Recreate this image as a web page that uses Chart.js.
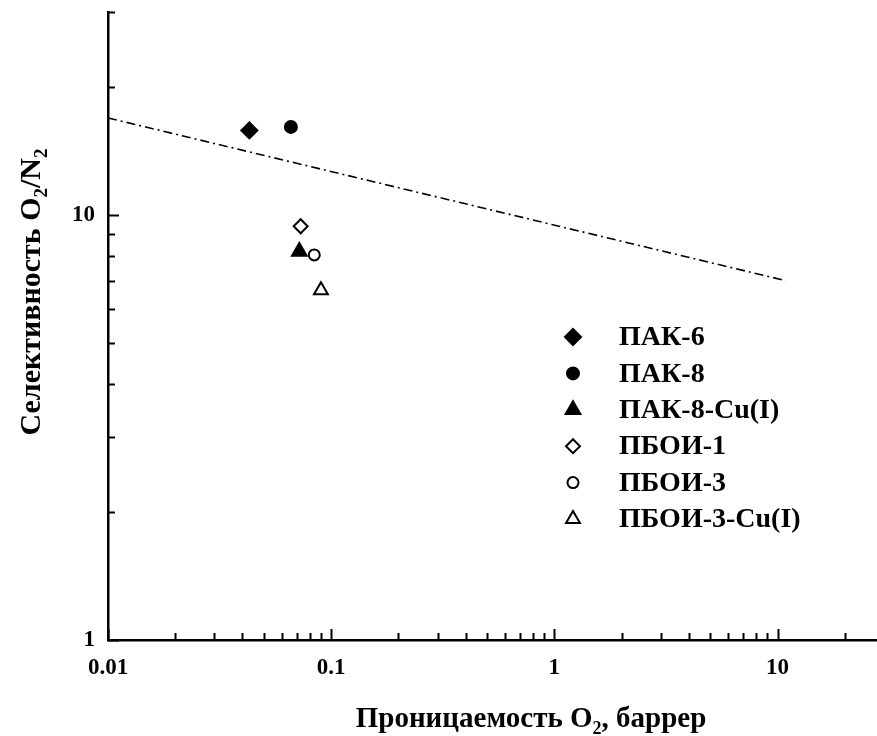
<!DOCTYPE html>
<html>
<head>
<meta charset="utf-8">
<script src="https://cdn.jsdelivr.net/npm/chart.js@4.4.1/dist/chart.umd.min.js"></script>
<style>
  html, body { margin: 0; padding: 0; background: #fff; overflow: hidden; }
  /* canvas is a little wider than the window so the x axis runs off the right edge */
  #wrap { width: 888px; height: 736px; }
</style>
</head>
<body>
<div id="wrap"><canvas id="chart"></canvas></div>
<script>
// samples
const names = ['ПАК-6', 'ПАК-8', 'ПАК-8-Cu(I)', 'ПБОИ-1', 'ПБОИ-3', 'ПБОИ-3-Cu(I)'];
const permO2 = [0.043, 0.066, 0.072, 0.073, 0.084, 0.090];
const selectivity = [15.8, 16.1, 8.2, 9.4, 8.05, 6.65];

// upper bound line (dash-dot)
const boundX = [0.01, 10.9];
const boundY = [16.9, 7.0];

const xTickLabels = ['0.01', '0.1', '1', '10'];
const yTickLabels = ['1', '10'];

const markers = [
  { style: 'rectRot', r: 8, fill: '#000' },
  { style: 'circle', r: 6, fill: '#000' },
  { style: 'triangle', r: 8.5, fill: '#000' },
  { style: 'rectRot', r: 7, fill: '#fff' },
  { style: 'circle', r: 5.5, fill: '#fff' },
  { style: 'triangle', r: 8, fill: '#fff' }
];

const SERIF = '"Liberation Serif", "Times New Roman", serif';

const isNice = v => {
  const p = Math.pow(10, Math.floor(Math.log10(v) + 1e-9));
  const s = v / p;
  return Math.abs(s - Math.round(s)) < 1e-6;
};
const isDecade = v => {
  const l = Math.log10(v);
  return Math.abs(l - Math.round(l)) < 1e-9;
};
const fmt = v => String(+v.toPrecision(6));

const datasets = names.map((name, i) => ({
  label: name,
  data: [{ x: permO2[i], y: selectivity[i] }],
  pointStyle: markers[i].style,
  pointRadius: markers[i].r,
  pointHoverRadius: markers[i].r,
  pointBackgroundColor: markers[i].fill,
  pointBorderColor: '#000',
  pointBorderWidth: 2,
  showLine: false
}));

datasets.push({
  label: 'bound',
  data: boundX.map((x, i) => ({ x, y: boundY[i] })),
  showLine: true,
  borderColor: '#000',
  borderWidth: 1.6,
  borderDash: [9, 4, 2, 4],
  pointRadius: 0,
  fill: false
});

const inwardTicks = {
  id: 'inwardTicks',
  afterDatasetsDraw(chart) {
    const { ctx, chartArea: a, scales: { x, y } } = chart;
    ctx.save();
    ctx.strokeStyle = '#000';
    ctx.lineWidth = 2;
    ctx.beginPath();
    x.ticks.forEach(t => {
      if (!isNice(t.value)) return;
      const px = Math.round(x.getPixelForValue(t.value)) + 0.5;
      const len = isDecade(t.value) ? 11 : 7;
      ctx.moveTo(px, a.bottom);
      ctx.lineTo(px, a.bottom - len);
    });
    y.ticks.forEach(t => {
      if (!isNice(t.value)) return;
      const py = Math.round(y.getPixelForValue(t.value)) + 0.5;
      const len = isDecade(t.value) ? 11 : 7;
      ctx.moveTo(a.left, py);
      ctx.lineTo(a.left + len, py);
    });
    ctx.stroke();
    ctx.restore();
  }
};

// text with subscripts, centred on x = 0, baseline at y = 0
function drawRich(ctx, parts, size) {
  const main = `bold ${size}px ${SERIF}`;
  const sub = `bold ${Math.round(size * 0.62)}px ${SERIF}`;
  let total = 0;
  const widths = parts.map(([t, s]) => {
    ctx.font = s ? sub : main;
    const w = ctx.measureText(t).width;
    total += w;
    return w;
  });
  let cx = -total / 2;
  ctx.textBaseline = 'alphabetic';
  ctx.textAlign = 'left';
  parts.forEach(([t, s], i) => {
    ctx.font = s ? sub : main;
    ctx.fillText(t, cx, s ? size * 0.24 : 0);
    cx += widths[i];
  });
}

const titles = {
  id: 'titles',
  afterDraw(chart) {
    const { ctx } = chart;
    ctx.save();
    ctx.fillStyle = '#000';
    ctx.translate(531, 727);
    drawRich(ctx, [['Проницаемость O', false], ['2', true], [', баррер', false]], 29);
    ctx.restore();

    ctx.save();
    ctx.fillStyle = '#000';
    ctx.translate(40, 292);
    ctx.rotate(-Math.PI / 2);
    drawRich(ctx, [['Селективность O', false], ['2', true], ['/N', false], ['2', true]], 30);
    ctx.restore();
  }
};

const legendBox = {
  id: 'legendBox',
  afterDraw(chart) {
    const { ctx } = chart;
    const draw = Chart.helpers && Chart.helpers.drawPoint;
    ctx.save();
    names.forEach((name, i) => {
      const yy = 337 + i * 36.4;
      const m = markers[i];
      ctx.fillStyle = m.fill;
      ctx.strokeStyle = '#000';
      ctx.lineWidth = 2;
      if (draw) {
        draw(ctx, { pointStyle: m.style, radius: m.r, borderWidth: 2, rotation: 0 }, 573, yy);
      }
      ctx.fillStyle = '#000';
      ctx.font = `bold 28px ${SERIF}`;
      ctx.textAlign = 'left';
      ctx.textBaseline = 'middle';
      ctx.fillText(name, 619, yy + 1);
    });
    ctx.restore();
  }
};

new Chart(document.getElementById('chart'), {
  type: 'scatter',
  data: { datasets },
  plugins: [inwardTicks, titles, legendBox],
  options: {
    responsive: true,
    maintainAspectRatio: false,
    animation: false,
    layout: { padding: { top: 12, right: 0, left: 0, bottom: 0 } },
    plugins: { legend: { display: false }, tooltip: { enabled: false } },
    scales: {
      x: {
        type: 'logarithmic',
        min: 0.01,
        max: 28.06,
        afterFit(scale) {
          scale.height = 96;
          scale.paddingLeft = 0;
          scale.paddingRight = 0;
        },
        grid: { display: false, drawTicks: false },
        border: { display: true, color: '#000', width: 2.5 },
        ticks: {
          autoSkip: false,
          maxRotation: 0,
          padding: 14,
          color: '#000',
          font: { family: SERIF, size: 23, weight: 'bold' },
          callback: v => (isDecade(v) && xTickLabels.includes(fmt(v)) ? fmt(v) : '')
        }
      },
      y: {
        type: 'logarithmic',
        min: 1,
        max: 30,
        afterFit(scale) {
          scale.width = 108;
          scale.paddingTop = 0;
          scale.paddingBottom = 0;
        },
        grid: { display: false, drawTicks: false },
        border: { display: true, color: '#000', width: 2.5 },
        ticks: {
          autoSkip: false,
          padding: 13,
          color: '#000',
          font: { family: SERIF, size: 23, weight: 'bold' },
          callback: v => (isDecade(v) && yTickLabels.includes(fmt(v)) ? fmt(v) : '')
        }
      }
    }
  }
});
</script>
</body>
</html>
